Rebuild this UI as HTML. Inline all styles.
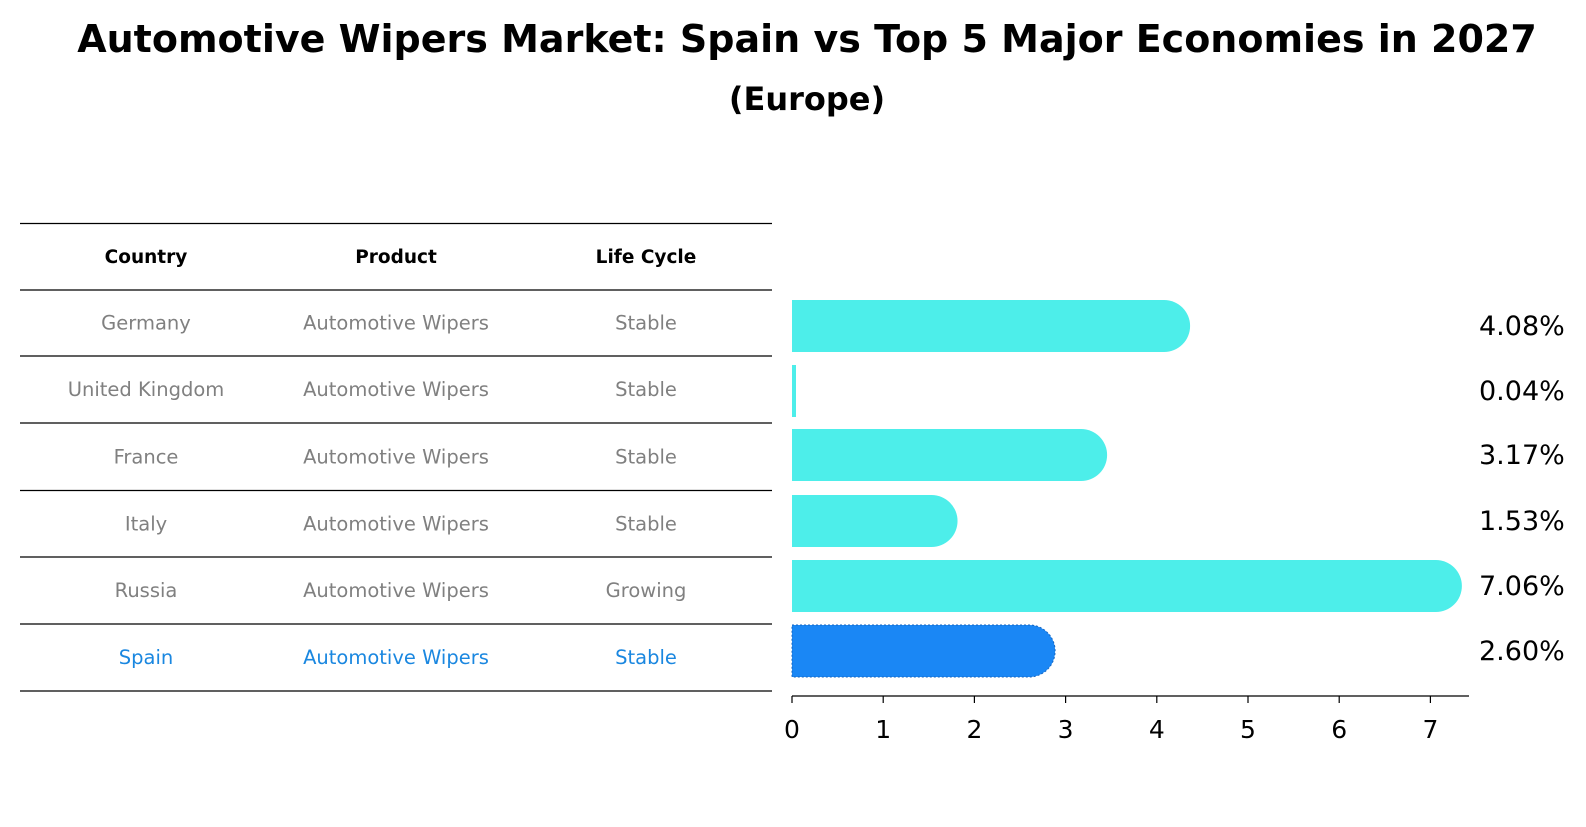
<!DOCTYPE html>
<html><head><meta charset="utf-8"><style>
body{margin:0;background:#fff;width:1586px;height:823px;overflow:hidden;font-family:"DejaVu Sans","Liberation Sans",sans-serif;}
</style></head><body>
<svg width="1586" height="823" xmlns="http://www.w3.org/2000/svg" font-family="DejaVu Sans, Liberation Sans, sans-serif">
<text x="807" y="52" text-anchor="middle" font-size="38" font-weight="bold">Automotive Wipers Market: Spain vs Top 5 Major Economies in 2027</text>
<text x="807" y="110" text-anchor="middle" font-size="32" font-weight="bold">(Europe)</text>
<g id="table"></g>
<g id="chart"></g>
</svg>
<script>
const countries=["Germany","United Kingdom","France","Italy","Russia","Spain"];
const products=["Automotive Wipers","Automotive Wipers","Automotive Wipers","Automotive Wipers","Automotive Wipers","Automotive Wipers"];
const lifecycle=["Stable","Stable","Stable","Stable","Growing","Stable"];
const values=[4.08,0.04,3.17,1.53,7.06,2.60];
const ticks=[0,1,2,3,4,5,6,7];
const NS="http://www.w3.org/2000/svg";
function mk(tag,attrs,parent,text){const e=document.createElementNS(NS,tag);for(const k in attrs)e.setAttribute(k,attrs[k]);if(text!==undefined)e.textContent=text;parent.appendChild(e);return e;}
const tbl=document.getElementById('table');
const lineYs=[223.5,290,356,423,490.5,557,624,691];
lineYs.forEach(y=>{const l=mk('line',{x1:20,x2:772,y1:y,y2:y,stroke:'#000','stroke-width':1.2},tbl);

});
const colX=[146,396,646];
["Country","Product","Life Cycle"].forEach((h,i)=>{const t=mk('text',{x:colX[i],y:263,'text-anchor':'middle','font-size':18.5,'font-weight':'bold'},tbl,h);

});
countries.forEach((c,r)=>{const y=(lineYs[r+1]+lineYs[r+2])/2+6.5;const col=c==="Spain"?"#1a87e0":"#808080";
[c,products[r],lifecycle[r]].forEach((v,i)=>{const t=mk('text',{x:colX[i],y:y,'text-anchor':'middle','font-size':19.5,fill:col},tbl,v);

});});
const ch=document.getElementById('chart');
const x0=792,scale=91.2;const X=v=>x0+v*scale;
const centers=[326,391,455,521,586,651];const bh=52;
values.forEach((v,i)=>{const spain=countries[i]==="Spain";const fill=spain?"#1a87f5":"#4deeea";
const g=mk('g',{},ch);


if(v<0.2){mk('rect',{x:x0,y:centers[i]-bh/2,width:4,height:bh,fill:fill},g);}
else{const r=bh/2;mk('path',{d:`M${x0},${centers[i]-r} H${X(v)} A${r},${r} 0 0 1 ${X(v)},${centers[i]+r} H${x0} Z`,fill:fill,stroke:spain?"#1565c0":"none",'stroke-dasharray':spain?"2,2":"none",'stroke-width':spain?1:0},g);}
const t=mk('text',{x:1479,y:centers[i]+9,'font-size':27},ch,v.toFixed(2)+'%');

});
const ax=mk('line',{x1:x0,x2:1469,y1:696,y2:696,stroke:'#000','stroke-width':1.3},ch);


ticks.forEach(t=>{const l=mk('line',{x1:X(t),x2:X(t),y1:696,y2:703,stroke:'#000','stroke-width':1.2},ch);


const tx=mk('text',{x:X(t),y:738,'text-anchor':'middle','font-size':25},ch,String(t));

});
</script>
</body></html>
